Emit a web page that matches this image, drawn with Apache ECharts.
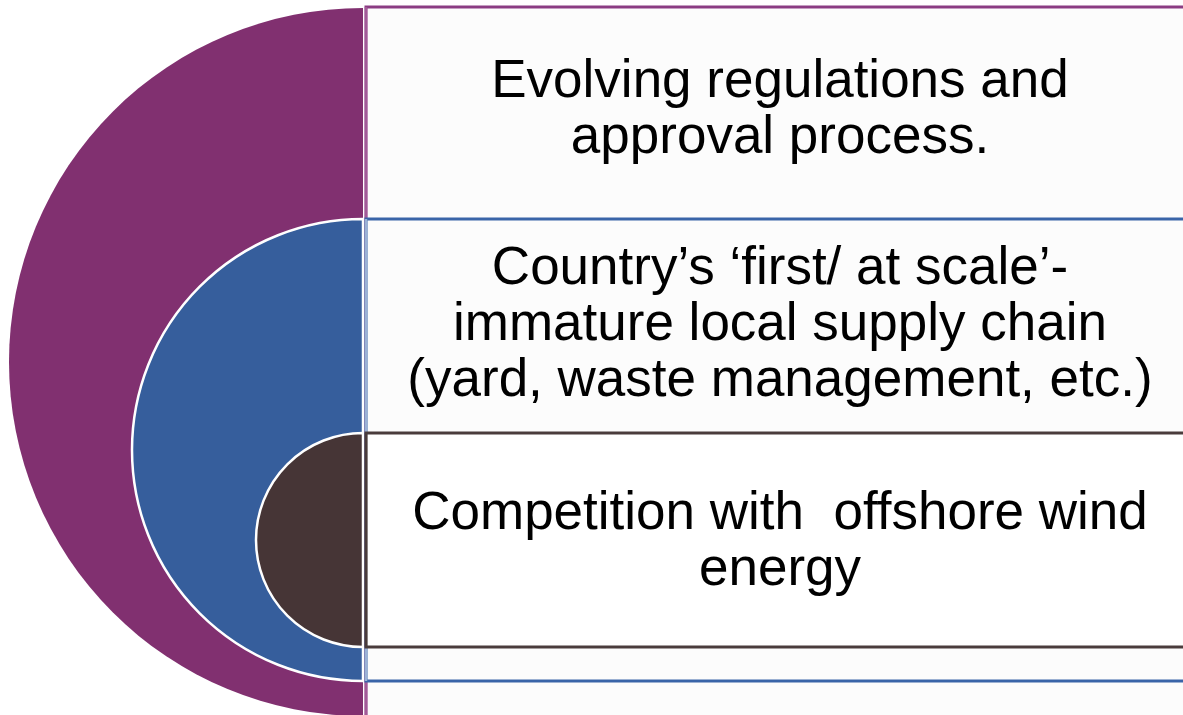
<!doctype html>
<html>
<head>
    <meta charset="utf-8">
    <title>Challenges</title>
    <style>
        html, body { margin: 0; padding: 0; width: 100%; height: 100%; background: #fff; }
        #chartEle { width: 1183px; height: 715px; }
    </style>
</head>
<body>
<div id="chartEle"></div>
<script src="https://cdn.jsdelivr.net/npm/echarts@6/dist/echarts.min.js"></script>
<script>
    // texts of the three levels, outer to inner
    var levelTexts = [
        'Evolving regulations and\napproval process.',
        'Country\u2019s \u2018first/ at scale\u2019-\nimmature local supply chain\n(yard, waste management, etc.)',
        'Competition with  offshore wind\nenergy'
    ];
    // each ring is a half disk: one hidden half, one shown half
    var halfShares = [1, 1];

    var colors = ['#813070', '#365e9c', '#463536'];
    var lineColors = ['#8b3c83', '#3a64a8', '#4a3c3c'];
    var sideColors = ['#a25a98', '#9bb2d6', '#4a3c3c'];

    // layout (pixels)
    var cx = 363;
    var rings = [
        {cy: 362, r: 354},
        {cy: 450, r: 231},
        {cy: 540, r: 107}
    ];
    var boxes = [
        {top: 7, bottom: 900, textY: 110},
        {top: 219, bottom: 681, textY: 325},
        {top: 433, bottom: 647, textY: 542}
    ];

    var myChart = echarts.init(document.getElementById('chartEle'));

    var series = rings.map(function (ring, i) {
        return {
            type: 'pie',
            silent: true,
            center: [cx, ring.cy],
            radius: [0, ring.r],
            startAngle: 90,
            clockwise: true,
            z: i + 1,
            label: {show: false},
            labelLine: {show: false},
            emphasis: {disabled: true},
            animation: false,
            data: [
                {value: halfShares[0], itemStyle: {color: 'rgba(0,0,0,0)', borderWidth: 0}},
                {value: halfShares[1], itemStyle: {
                    color: colors[i],
                    borderColor: i === 0 ? colors[i] : '#ffffff',
                    borderWidth: i === 0 ? 0 : 2.5
                }}
            ]
        };
    });

    var graphics = [];
    boxes.forEach(function (b, i) {
        // box body with coloured top/bottom line
        graphics.push({
            type: 'rect',
            z: 10 + i,
            shape: {x: 366, y: b.top, width: 900, height: b.bottom - b.top},
            style: {fill: i === 2 ? '#ffffff' : '#fcfcfc', stroke: lineColors[i], lineWidth: 3}
        });
        // left edge
        graphics.push({
            type: 'line',
            z: 10 + i,
            shape: {x1: 366, y1: b.top, x2: 366, y2: Math.min(b.bottom, 715)},
            style: {stroke: sideColors[i], lineWidth: 2.5}
        });
        graphics.push({
            type: 'text',
            z: 20,
            x: 780,
            y: b.textY,
            style: {
                text: levelTexts[i],
                fill: '#000000',
                font: '53px "Liberation Sans", Arial, sans-serif',
                lineHeight: 56,
                align: 'center',
                verticalAlign: 'middle'
            }
        });
    });

    var option = {
        animation: false,
        series: series,
        graphic: graphics
    };
    myChart.setOption(option);
</script>
</body>
</html>
